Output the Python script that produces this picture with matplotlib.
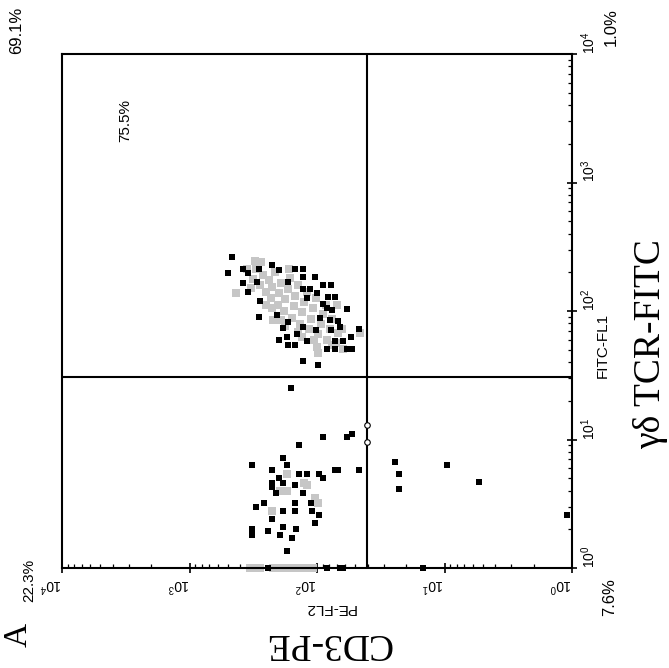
import matplotlib
matplotlib.use("Agg")
import matplotlib.pyplot as plt
from matplotlib.ticker import LogLocator, NullFormatter

plt.rcParams['font.family'] = ['Liberation Sans', 'DejaVu Sans']
plt.rcParams['mathtext.fontset'] = 'custom'
plt.rcParams['mathtext.rm'] = 'Liberation Sans'

# flow cytometry dot plot, page rotated: PE runs right-to-left, FITC bottom-to-top
decades = [1, 10, 100, 1000, 10000]
decade_labels = [r'$\mathregular{10^{%d}}$' % i for i in range(5)]

gate_pe = 40.5      # vertical quadrant line
gate_fitc = 30.5    # horizontal quadrant line

# black (high density) events, (PE, FITC)
black_pe = [464, 499, 380, 348, 285, 225, 199, 149, 129, 104, 129, 380, 348, 296, 169,
            129, 113, 90, 78, 100, 82, 72, 120, 280, 90, 83, 58, 76, 285, 206,
            169, 95, 79, 68, 66, 185, 129, 102, 78, 47, 54, 172, 144, 120, 199,
            169, 149, 72, 63, 83, 72, 58, 53, 129, 98, 160,
            90, 58, 53, 138, 185, 324, 225, 172, 199, 185, 225, 225, 138, 120,
            96, 90, 72, 68, 47, 149, 210, 129, 260, 301, 149, 111, 185, 149,
            110, 96, 225, 104, 324, 324, 242, 185, 146, 195, 157, 172,
            242, 83, 66, 63, 14.7,
            24.4, 22.7, 22.7, 9.6, 5.4, 1.1]
black_fitc = [264, 198, 213, 198, 213, 229, 209, 213, 213, 184, 184, 165, 141, 169, 169,
              149, 149, 160, 160, 138, 129, 129, 126, 120, 113, 106, 104, 102, 90, 93,
              82, 88, 85, 84, 75, 74, 75, 71, 71, 72, 63, 63, 66, 58, 59,
              54, 54, 58, 58, 51, 51, 51, 51, 41, 38, 25,
              10.4, 10.4, 11.1, 9.0, 7.2, 6.3, 5.8, 6.3, 5.0, 4.6, 4.6, 4.3, 5.4, 5.4,
              5.4, 5.0, 5.8, 5.8, 5.8, 4.4, 3.8, 3.8, 3.2, 3.0, 3.2, 3.2, 2.8, 2.8,
              2.8, 2.6, 2.4, 2.25, 2.0, 1.8, 1.95, 2.1, 2.0, 1.8, 1.7, 1.36,
              1.0, 1.0, 1.0, 1.0, 1.0,
              6.7, 5.4, 4.1, 6.3, 4.7, 2.6]

# grey (lower density) events, (PE, FITC)
gray_pe = [355, 316, 302, 282, 263, 251, 240, 229, 224, 214, 204, 200, 191, 182, 178,
           170, 162, 158, 151, 148, 141, 135, 132, 126, 120, 115, 112, 107, 102, 98,
           93, 89, 83, 79, 76, 71, 68, 63, 251, 191, 141, 105, 331, 275, 166,
           224, 178, 132, 100, 85,
           306, 432, 98, 76, 64, 46, 221, 70,
           172, 126, 120, 195, 172, 104, 98, 225,
           335, 306, 280, 221, 195, 172, 154, 136, 120, 107]
gray_fitc = [214, 178, 214, 158, 191, 141, 174, 126, 155, 200, 112, 138, 166, 100, 123,
             148, 182, 89, 110, 132, 158, 79, 98, 117, 141, 72, 87, 105, 126, 66,
             79, 95, 60, 72, 87, 56, 68, 51, 112, 85, 69, 60, 151, 240, 214,
             105, 76, 63, 52, 112,
             246, 138, 47, 54, 72, 67, 85, 111,
             5.4, 4.6, 4.4, 4.0, 4.0, 3.5, 3.2, 2.8,
             1, 1, 1, 1, 1, 1, 1, 1, 1, 1]

# open gate markers sitting on the vertical line
marker_pe = [gate_pe, gate_pe]
marker_fitc = [12.9, 9.6]

quad_labels = ['69.1%', '1.0%', '22.3%', '7.6%']
region_label = '75.5%'

W, H = 669, 668
fig = plt.figure(figsize=(W / 100, H / 100), dpi=100)
ax = fig.add_axes([62 / W, 1 - 568 / H, 510 / W, 514 / H])


def px(x, y):
    return x / W, 1 - y / H


ax.set_xscale('log')
ax.set_yscale('log')
ax.set_xlim(1e4, 1)
ax.set_ylim(1, 1e4)

ax.plot(gray_pe, gray_fitc, 's', color='#c6c6c6', markersize=5.6, markeredgewidth=0,
        clip_on=False, zorder=2)
ax.plot(black_pe, black_fitc, 's', color='black', markersize=4.4, markeredgewidth=0,
        clip_on=False, zorder=3)
ax.plot(marker_pe, marker_fitc, 'o', markerfacecolor='white', markeredgecolor='black',
        markersize=4, markeredgewidth=0.8, zorder=4)

ax.axvline(gate_pe, color='black', lw=1.5, zorder=1)
ax.axhline(gate_fitc, color='black', lw=1.5, zorder=1)

for s in ax.spines.values():
    s.set_linewidth(1.5)

ax.yaxis.tick_right()
ax.set_xticks(decades, decade_labels, rotation=180, ha='right', va='top', fontsize=10)
ax.set_yticks(decades, decade_labels, rotation=90, ha='left', va='bottom', fontsize=10)
for axis in (ax.xaxis, ax.yaxis):
    axis.set_minor_locator(LogLocator(base=10, subs=range(2, 10)))
    axis.set_minor_formatter(NullFormatter())
ax.tick_params(which='major', direction='inout', length=7, width=1.2, pad=2)
ax.tick_params(which='minor', direction='in', length=3, width=0.9)

# axis titles
fig.text(*px(330, 608), 'PE-FL2', rotation=180, ha='center', va='center', fontsize=11)
fig.text(*px(603, 345), 'FITC-FL1', rotation=90, ha='center', va='center', fontsize=11)
fig.text(*px(328, 643), 'CD3-PE', rotation=180, ha='center', va='center',
         fontsize=27, family='Liberation Serif')
fig.text(*px(651, 344), 'γδ TCR-FITC', rotation=90, ha='center', va='center',
         fontsize=27, family='Liberation Serif')
fig.text(*px(18, 635), 'A', rotation=90, ha='center', va='center',
         fontsize=24, family='Liberation Serif')

# quadrant statistics
fig.text(*px(17, 30), quad_labels[0], rotation=90, ha='center', va='center', fontsize=12)
fig.text(*px(611, 27), quad_labels[1], rotation=90, ha='center', va='center', fontsize=12)
fig.text(*px(29, 580), quad_labels[2], rotation=90, ha='center', va='center', fontsize=11)
fig.text(*px(610, 597), quad_labels[3], rotation=90, ha='center', va='center', fontsize=12)
fig.text(*px(125, 120), region_label, rotation=90, ha='center', va='center', fontsize=11)

fig.savefig('out.png', dpi=100)
